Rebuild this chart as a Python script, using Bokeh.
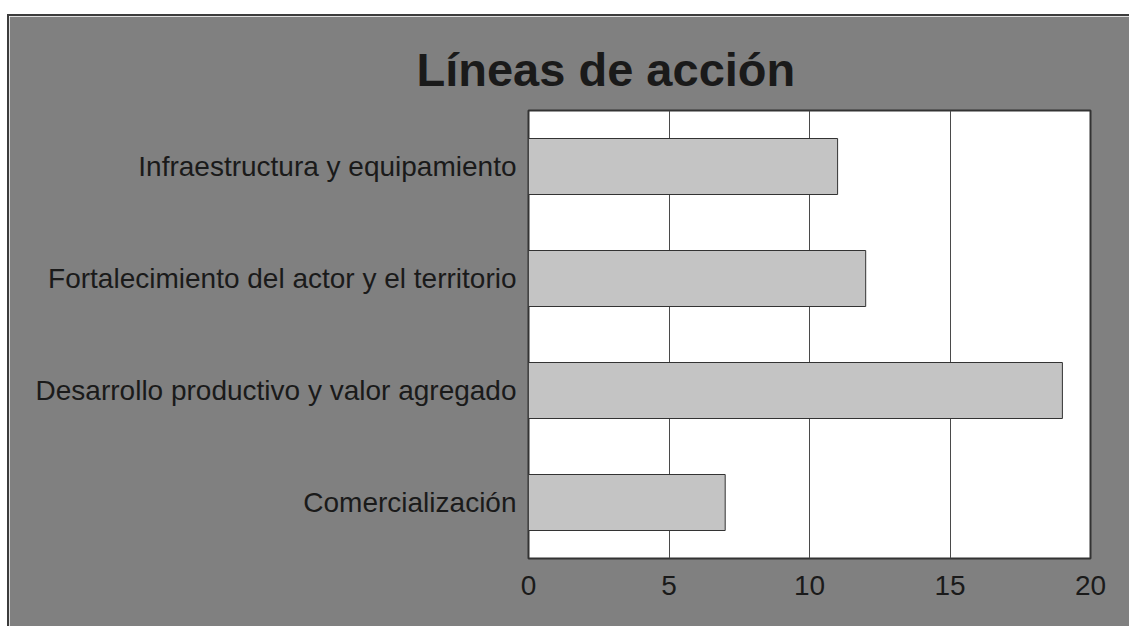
from bokeh.plotting import figure
from bokeh.models import Range1d, FixedTicker, Spacer, Column, Row
from bokeh.embed import file_html
from bokeh.resources import INLINE

categories = ["Comercialización", "Desarrollo productivo y valor agregado",
              "Fortalecimiento del actor y el territorio", "Infraestructura y equipamiento"]
values = [7, 19, 12, 11]
x_ticks = [0, 5, 10, 15, 20]
title_text = "Líneas de acción"

FONT = "Liberation Sans"
BG = "#808080"

p = figure(width=1122, height=612, y_range=categories, x_range=Range1d(0, 20),
           output_backend="svg", toolbar_location=None, title=title_text,
           min_border_left=519, min_border_right=41, min_border_top=94, min_border_bottom=70)
p.styles = {"border-left": "2px solid #3c3c3c", "border-top": "2px solid #3c3c3c"}

p.title.text_font = FONT
p.title.text_font_size = "47px"
p.title.text_font_style = "bold"
p.title.text_color = "#1a1a1a"
p.title.align = "left"
p.title.offset = -112
p.title.standoff = 29

p.background_fill_color = "white"
p.border_fill_color = BG
p.outline_line_color = "#333333"
p.outline_line_width = 2

p.hbar(y=categories, right=values, left=0, height=0.5,
       fill_color="#c4c4c4", line_color="#333333", line_width=1)

p.xgrid.ticker = FixedTicker(ticks=[5, 10, 15])
p.xgrid.grid_line_color = "#4a4a4a"
p.xgrid.grid_line_width = 1
p.ygrid.grid_line_color = None

p.xaxis.ticker = FixedTicker(ticks=x_ticks)
for ax in (p.xaxis[0], p.yaxis[0]):
    ax.axis_line_color = None
    ax.major_tick_line_color = None
    ax.minor_tick_line_color = None
    ax.major_tick_out = 0
    ax.major_tick_in = 0
    ax.major_label_text_font = FONT
    ax.major_label_text_font_size = "28px"
    ax.major_label_text_color = "#1a1a1a"
p.xaxis.major_label_standoff = 17
p.yaxis.major_label_standoff = 12

layout = Row(Spacer(width=7), Column(Spacer(height=14), p, spacing=0), spacing=0)
open("out.html", "w").write(file_html(layout, INLINE))
